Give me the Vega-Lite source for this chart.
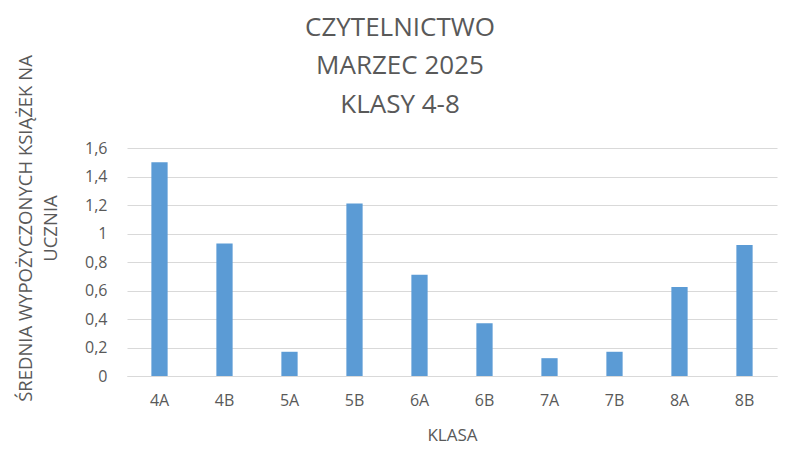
{
  "$schema": "https://vega.github.io/schema/vega-lite/v6.json",
  "width": 650,
  "height": 228,
  "autosize": {"type": "none"},
  "padding": {"left": 127, "top": 148, "right": 23, "bottom": 93},
  "background": "white",
  "title": {
    "text": ["CZYTELNICTWO", "MARZEC 2025", "KLASY 4-8"],
    "font": "Open Sans",
    "fontSize": 26,
    "fontWeight": "normal",
    "color": "#595959",
    "lineHeight": 38.5,
    "anchor": "middle",
    "frame": "group",
    "dx": -52,
    "dy": 63,
    "offset": 0
  },
  "data": {
    "values": [
      {"klasa": "4A", "srednia": 1.5},
      {"klasa": "4B", "srednia": 0.93},
      {"klasa": "5A", "srednia": 0.17},
      {"klasa": "5B", "srednia": 1.21},
      {"klasa": "6A", "srednia": 0.71},
      {"klasa": "6B", "srednia": 0.37},
      {"klasa": "7A", "srednia": 0.125},
      {"klasa": "7B", "srednia": 0.17},
      {"klasa": "8A", "srednia": 0.625},
      {"klasa": "8B", "srednia": 0.92}
    ]
  },
  "mark": {"type": "bar", "color": "#5B9BD5"},
  "encoding": {
    "x": {
      "field": "klasa",
      "type": "nominal",
      "sort": null,
      "scale": {"paddingInner": 0.75, "paddingOuter": 0.375},
      "axis": {
        "title": "KLASA",
        "titleFont": "Open Sans",
        "titleFontSize": 17,
        "titleFontWeight": "normal",
        "titleColor": "#595959",
        "titlePadding": 19,
        "labelFont": "Open Sans",
        "labelFontSize": 16,
        "labelColor": "#595959",
        "labelAngle": 0,
        "labelPadding": 16,
        "ticks": false,
        "domainColor": "#d9d9d9",
        "domainWidth": 1
      }
    },
    "y": {
      "field": "srednia",
      "type": "quantitative",
      "scale": {"domain": [0, 1.6]},
      "axis": {
        "title": ["ŚREDNIA WYPOŻYCZONYCH KSIĄŻEK NA", "UCZNIA"],
        "titleFont": "Open Sans",
        "titleFontSize": 18.5,
        "titleFontWeight": "normal",
        "titleColor": "#595959",
        "titleLineHeight": 25,
        "titleBaseline": "middle",
        "titleAlign": "center",
        "titleAngle": -90,
        "titleX": -102,
        "titleY": 80,
        "labelFont": "Open Sans",
        "labelFontSize": 16,
        "labelColor": "#595959",
        "labelPadding": 20,
        "labelOverlap": false,
        "labelFlush": false,
        "labelExpr": "replace(format(datum.value, '.1~f'), '.', ',')",
        "values": [0, 0.2, 0.4, 0.6, 0.8, 1, 1.2, 1.4, 1.6],
        "ticks": false,
        "domain": false,
        "gridColor": "#d9d9d9",
        "gridWidth": 1
      }
    }
  },
  "config": {"view": {"stroke": null}}
}
